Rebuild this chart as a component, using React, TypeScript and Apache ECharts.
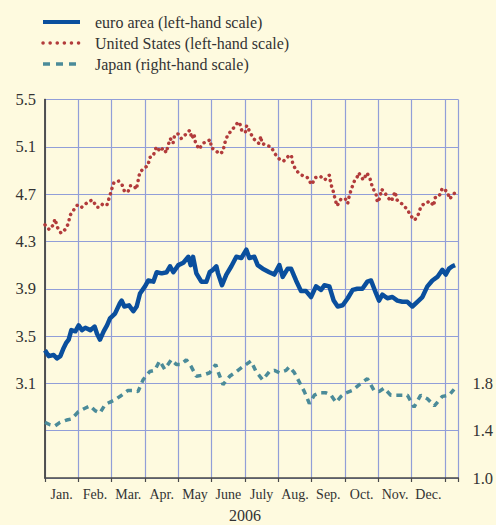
import React, { useEffect, useRef } from "react";
import * as echarts from "echarts";

// x positions are in months from 1 Jan 2006 (0 = start of January)
const months = ["Jan.", "Feb.", "Mar.", "Apr.", "May", "June", "July", "Aug.", "Sep.", "Oct.", "Nov.", "Dec."];
const yearLabel = "2006";

const euroX = [0, 0.11, 0.26, 0.36, 0.46, 0.56, 0.63, 0.71, 0.79, 0.91, 1.01, 1.11, 1.21, 1.36, 1.49, 1.56, 1.65, 1.76, 1.86, 1.95, 2.10, 2.25, 2.30, 2.38, 2.52, 2.65, 2.75, 2.85, 3.00, 3.10, 3.25, 3.35, 3.50, 3.65, 3.75, 3.85, 4.00, 4.15, 4.30, 4.37, 4.44, 4.54, 4.69, 4.84, 4.94, 5.04, 5.14, 5.19, 5.31, 5.44, 5.59, 5.74, 5.89, 6.04, 6.13, 6.28, 6.38, 6.53, 6.73, 6.88, 7.03, 7.13, 7.28, 7.38, 7.53, 7.68, 7.83, 7.98, 8.13, 8.28, 8.38, 8.53, 8.66, 8.78, 8.93, 9.08, 9.23, 9.37, 9.52, 9.67, 9.78, 9.93, 10.02, 10.12, 10.27, 10.42, 10.57, 10.72, 10.87, 11.02, 11.17, 11.32, 11.47, 11.62, 11.77, 11.92, 12.02, 12.12, 12.22, 12.30];
const euroY = [3.38, 3.33, 3.34, 3.31, 3.33, 3.40, 3.44, 3.47, 3.55, 3.54, 3.59, 3.55, 3.57, 3.55, 3.58, 3.52, 3.47, 3.54, 3.59, 3.65, 3.69, 3.78, 3.80, 3.75, 3.76, 3.71, 3.75, 3.86, 3.92, 3.97, 3.96, 4.04, 4.03, 4.04, 4.09, 4.04, 4.10, 4.12, 4.17, 4.10, 4.17, 4.03, 3.96, 3.96, 4.04, 4.06, 4.09, 4.03, 3.93, 4.02, 4.09, 4.17, 4.16, 4.23, 4.16, 4.17, 4.10, 4.07, 4.04, 4.02, 4.10, 4.00, 4.07, 4.07, 3.97, 3.88, 3.88, 3.83, 3.92, 3.89, 3.93, 3.92, 3.80, 3.75, 3.76, 3.82, 3.89, 3.90, 3.90, 3.96, 3.97, 3.86, 3.80, 3.85, 3.82, 3.83, 3.80, 3.79, 3.79, 3.75, 3.79, 3.83, 3.92, 3.97, 4.00, 4.06, 4.02, 4.07, 4.09, 4.10];

const usX = [0, 0.13, 0.25, 0.30, 0.37, 0.48, 0.60, 0.70, 0.75, 0.87, 0.98, 1.10, 1.23, 1.33, 1.43, 1.55, 1.65, 1.74, 1.86, 1.94, 2.01, 2.07, 2.21, 2.31, 2.39, 2.49, 2.56, 2.67, 2.74, 2.79, 2.84, 2.96, 3.09, 3.14, 3.24, 3.34, 3.46, 3.54, 3.64, 3.69, 3.76, 3.84, 3.89, 3.99, 4.09, 4.24, 4.34, 4.41, 4.47, 4.51, 4.62, 4.74, 4.89, 4.96, 4.99, 5.07, 5.24, 5.34, 5.39, 5.48, 5.63, 5.77, 5.83, 5.90, 6.01, 6.05, 6.14, 6.25, 6.41, 6.48, 6.50, 6.66, 6.78, 6.90, 7.05, 7.16, 7.30, 7.39, 7.43, 7.53, 7.70, 7.87, 8.00, 8.11, 8.26, 8.39, 8.53, 8.57, 8.64, 8.70, 8.76, 8.88, 9.01, 9.08, 9.13, 9.20, 9.28, 9.40, 9.41, 9.55, 9.66, 9.75, 9.82, 9.93, 9.97, 10.05, 10.09, 10.15, 10.29, 10.39, 10.50, 10.56, 10.74, 10.89, 10.96, 11.09, 11.20, 11.27, 11.37, 11.55, 11.66, 11.70, 11.82, 11.92, 12.07, 12.14, 12.29];
const usY = [4.44, 4.40, 4.44, 4.49, 4.42, 4.37, 4.40, 4.45, 4.52, 4.57, 4.61, 4.59, 4.62, 4.64, 4.65, 4.59, 4.59, 4.62, 4.61, 4.68, 4.75, 4.80, 4.81, 4.78, 4.72, 4.72, 4.77, 4.77, 4.74, 4.81, 4.88, 4.92, 4.94, 5.01, 5.02, 5.10, 5.06, 5.09, 5.05, 5.11, 5.17, 5.13, 5.20, 5.21, 5.17, 5.21, 5.24, 5.17, 5.21, 5.14, 5.08, 5.13, 5.15, 5.16, 5.09, 5.08, 5.04, 5.06, 5.13, 5.20, 5.25, 5.30, 5.31, 5.24, 5.22, 5.28, 5.23, 5.17, 5.13, 5.19, 5.13, 5.11, 5.10, 5.04, 4.99, 4.98, 5.02, 5.03, 4.96, 4.90, 4.86, 4.84, 4.78, 4.84, 4.85, 4.82, 4.86, 4.79, 4.73, 4.66, 4.60, 4.66, 4.66, 4.62, 4.69, 4.75, 4.81, 4.86, 4.88, 4.82, 4.88, 4.83, 4.76, 4.70, 4.63, 4.67, 4.74, 4.73, 4.67, 4.64, 4.72, 4.65, 4.61, 4.56, 4.52, 4.48, 4.53, 4.59, 4.62, 4.64, 4.60, 4.67, 4.68, 4.75, 4.72, 4.66, 4.71];

const japanX = [0, 0.15, 0.30, 0.45, 0.65, 0.80, 1.00, 1.20, 1.35, 1.50, 1.65, 1.80, 1.94, 2.09, 2.30, 2.49, 2.64, 2.79, 2.94, 3.14, 3.29, 3.44, 3.59, 3.79, 3.94, 4.09, 4.24, 4.39, 4.54, 4.74, 4.94, 5.04, 5.12, 5.19, 5.34, 5.54, 5.74, 5.93, 6.18, 6.33, 6.53, 6.73, 6.88, 7.03, 7.23, 7.33, 7.48, 7.63, 7.78, 7.93, 8.08, 8.23, 8.43, 8.58, 8.73, 8.88, 9.03, 9.22, 9.43, 9.67, 9.87, 10.02, 10.17, 10.37, 10.57, 10.87, 11.07, 11.27, 11.47, 11.68, 11.92, 12.12, 12.27];
const japanY = [1.47, 1.45, 1.44, 1.47, 1.49, 1.50, 1.56, 1.59, 1.61, 1.57, 1.55, 1.62, 1.64, 1.66, 1.70, 1.74, 1.74, 1.73, 1.83, 1.90, 1.91, 1.99, 1.92, 2.00, 1.96, 1.96, 2.00, 1.94, 1.86, 1.87, 1.89, 1.93, 1.96, 1.90, 1.79, 1.86, 1.90, 1.94, 1.99, 1.90, 1.83, 1.90, 1.91, 1.89, 1.91, 1.94, 1.89, 1.81, 1.73, 1.63, 1.70, 1.72, 1.72, 1.70, 1.64, 1.69, 1.72, 1.74, 1.79, 1.84, 1.74, 1.73, 1.76, 1.70, 1.70, 1.70, 1.60, 1.70, 1.67, 1.61, 1.69, 1.70, 1.75];

const legendNames = ["euro area (left-hand scale)", "United States (left-hand scale)", "Japan (right-hand scale)"];

const FONT = "Liberation Serif";
const BG = "#FEFADF";
const GRID = "#919ED8";
const AXIS = "#4a4a4a";
const EURO = "#0A4F9D";
const US = "#B23B3B";
const JP = "#4B8B99";

const zip = (xs: number[], ys: number[]) => xs.map((x, i) => [x, ys[i]]);

export default function App() {
  const ref = useRef<HTMLDivElement>(null);
  useEffect(() => {
    document.body.style.margin = "0";
    const chart = echarts.init(ref.current!, null, { renderer: "svg" });
    const legendY = [22, 43, 64];
    const legendColors = [EURO, US, JP];
    const legendDash: any[] = [null, [0.1, 7], [7, 6]];
    const legendGraphics: any[] = [];
    legendNames.forEach((name, i) => {
      legendGraphics.push({
        type: "line",
        shape: { x1: 43, y1: legendY[i], x2: 80, y2: legendY[i] },
        style: {
          stroke: legendColors[i],
          lineWidth: i === 0 ? 4 : 3.5,
          lineDash: legendDash[i],
          lineCap: i === 1 ? "round" : "butt",
        },
      });
      legendGraphics.push({
        type: "text",
        x: 95,
        y: legendY[i],
        style: { text: name, fontFamily: FONT, fontSize: 16, fill: "#333", verticalAlign: "middle", align: "left" },
      });
    });
    legendGraphics.push({
      type: "text",
      x: 245,
      y: 515,
      style: { text: yearLabel, fontFamily: FONT, fontSize: 16, fill: "#333", verticalAlign: "middle", align: "center" },
    });

    chart.setOption({
      animation: false,
      backgroundColor: BG,
      textStyle: { fontFamily: FONT },
      grid: { left: 45, right: 37, top: 99.5, bottom: 47, containLabel: false },
      graphic: legendGraphics,
      xAxis: [
        {
          type: "value",
          min: 0,
          max: 12.4,
          interval: 1,
          position: "bottom",
          axisLine: { show: true, lineStyle: { color: AXIS, width: 1.5 } },
          axisTick: { show: true, length: 4, lineStyle: { color: AXIS, width: 1.2 } },
          axisLabel: { show: false },
          splitLine: { show: true, lineStyle: { color: GRID, width: 1.2 } },
        },
        {
          type: "value",
          min: 0,
          max: 12.4,
          interval: 0.5,
          position: "bottom",
          axisLine: { show: false },
          axisTick: { show: false },
          splitLine: { show: false },
          axisLabel: {
            show: true,
            margin: 9,
            fontSize: 14,
            fontFamily: FONT,
            color: "#333",
            formatter: (v: number) => {
              const f = v - Math.floor(v);
              if (Math.abs(f - 0.5) < 0.01) {
                const k = Math.floor(v);
                return months[k] ?? "";
              }
              return "";
            },
          },
        },
      ],
      yAxis: [
        {
          type: "value",
          min: 2.3,
          max: 5.5,
          interval: 0.4,
          position: "left",
          axisLine: { show: true, lineStyle: { color: AXIS, width: 1.5 } },
          axisTick: { show: false },
          splitLine: { show: true, lineStyle: { color: GRID, width: 1.2 } },
          axisLabel: {
            margin: 9,
            fontSize: 16.5,
            fontFamily: FONT,
            color: "#333",
            formatter: (v: number) => (v >= 3.0 ? v.toFixed(1) : ""),
          },
        },
        {
          type: "value",
          min: 1.0,
          max: 4.2,
          interval: 0.4,
          position: "right",
          axisLine: { show: true, lineStyle: { color: AXIS, width: 1.5 } },
          axisTick: { show: false },
          splitLine: { show: false },
          axisLabel: {
            margin: 14,
            fontSize: 16.5,
            fontFamily: FONT,
            color: "#333",
            formatter: (v: number) => (v <= 1.85 ? v.toFixed(1) : ""),
          },
        },
      ],
      series: [
        {
          name: legendNames[2],
          type: "line",
          xAxisIndex: 0,
          yAxisIndex: 1,
          data: zip(japanX, japanY),
          showSymbol: false,
          lineStyle: { color: JP, width: 3.5, type: [6, 5] },
          z: 3,
        },
        {
          name: legendNames[1],
          type: "line",
          xAxisIndex: 0,
          yAxisIndex: 0,
          data: zip(usX, usY),
          showSymbol: false,
          lineStyle: { color: US, width: 3.5, type: [0.1, 5.5], cap: "round" },
          z: 4,
        },
        {
          name: legendNames[0],
          type: "line",
          xAxisIndex: 0,
          yAxisIndex: 0,
          data: zip(euroX, euroY),
          showSymbol: false,
          lineStyle: { color: EURO, width: 4.5, join: "round" },
          z: 5,
        },
      ],
    });
    return () => chart.dispose();
  }, []);
  return <div ref={ref} style={{ position: "absolute", left: 0, top: 0, width: 496, height: 525 }} />;
}
